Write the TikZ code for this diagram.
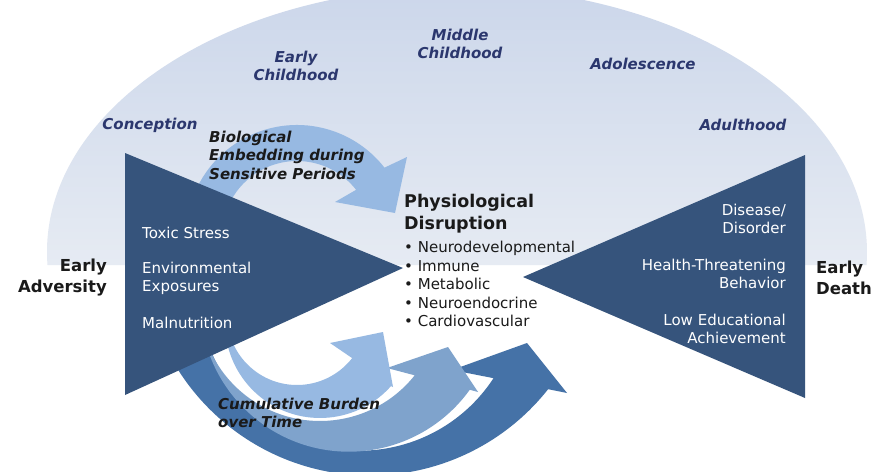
\documentclass[tikz,border=0pt]{standalone}
\usepackage{fontspec}
\setmainfont{DejaVu Sans}[BoldFont={DejaVu Sans Bold},ItalicFont={DejaVu Sans Oblique},BoldItalicFont={DejaVu Sans Bold Oblique}]
\usetikzlibrary{calc}
\definecolor{tri}{RGB}{54,84,124}
\definecolor{arrL}{RGB}{151,185,226}
\definecolor{arrM}{RGB}{127,163,204}
\definecolor{arrD}{RGB}{69,114,167}
\definecolor{stage}{RGB}{43,55,110}
\definecolor{txt}{RGB}{26,26,26}
\definecolor{ovalTop}{RGB}{203,214,234}
\definecolor{ovalBot}{RGB}{230,235,243}
\begin{document}
\begin{tikzpicture}[x=1pt,y=-1pt,
  stagelbl/.style={font=\fontsize{15}{18}\selectfont\bfseries\itshape, text=stage, align=center, inner sep=0pt},
  tritext/.style={font=\fontsize{15}{18}\selectfont, text=white, inner sep=0pt},
  sidelbl/.style={font=\fontsize{16.5}{21}\selectfont\bfseries, text=txt, inner sep=0pt},
  arrowlbl/.style={font=\fontsize{15}{18.5}\selectfont\bfseries\itshape, text=txt, inner sep=0pt, align=left},
  physlbl/.style={font=\fontsize{17.5}{22}\selectfont\bfseries, text=txt, inner sep=0pt, align=left},
  listlbl/.style={font=\fontsize{15}{18.5}\selectfont, text=txt, inner sep=0pt, align=left}]
\clip (0,0) rectangle (882,471);
\fill[white] (0,0) rectangle (882,471);
% background half ellipse
\shade[top color=ovalTop, bottom color=ovalBot] (47.5,265) arc[start angle=177.19, end angle=362.81, x radius=410, y radius=265] -- cycle;
% bottom arrows
\fill[arrD] ($(370,248.5)+(175:227)$) arc[start angle=175, end angle=38.3, radius=227] -- (567,393) -- (527,343) -- (452,370) -- ($(359.4,290.4)+(33.2:160.3)$) arc[start angle=33.2, end angle=175, radius=160.3] -- cycle;
\fill[arrM] ($(349,303)+(178:148.7)$) arc[start angle=178, end angle=35.7, radius=148.7] -- (478,392) -- (448,347) -- (387,368) -- ($(320,300)+(38.5:121)$) arc[start angle=38.5, end angle=178, radius=121] -- cycle;
\fill[arrL] ($(320,323)+(185:95)$) arc[start angle=185, end angle=41.6, radius=95] -- (393,387) -- (383,332) -- (330,343) -- ($(297,315)+(38:70)$) arc[start angle=38, end angle=185, radius=70] -- cycle;
% top arrow
\fill[arrL] ($(297,236)+(-160:111)$) arc[start angle=-160, end angle=-38, radius=111] -- (407,157) -- (395,213) -- (335,202) -- ($(297,236)+(-38:75)$) arc[start angle=-38, end angle=-160, radius=75] -- cycle;
% triangles
\fill[tri] (125,153) -- (403,268) -- (125,395) -- cycle;
\fill[tri] (805,155) -- (523,277) -- (805,398) -- cycle;
% stage labels
\node[stagelbl] (conc) at (150,125) {Conception};
\node[stagelbl] (echild) at (296,66) {Early\\Childhood};
\node[stagelbl] (mchild) at (460,43.5) {Middle\\Childhood};
\node[stagelbl] (adol) at (643,64) {Adolescence};
\node[stagelbl] (adult) at (743,125) {Adulthood};
% arrow labels
\node[arrowlbl, anchor=west] (bio) at (209,155) {Biological\\Embedding during\\Sensitive Periods};
\node[arrowlbl, anchor=west] (cum) at (218,413) {Cumulative Burden\\over Time};
% side labels
\node[sidelbl, align=right, anchor=east] (adv) at (107,278) {Early\\Adversity};
\node[sidelbl, align=left, anchor=west] (death) at (816,278) {Early\\Death};
% centre
\node[physlbl, anchor=west] (phys) at (404,214) {Physiological\\Disruption};
\node[listlbl, anchor=west] (list) at (404,284) {• Neurodevelopmental\\• Immune\\• Metabolic\\• Neuroendocrine\\• Cardiovascular};
% left triangle texts
\node[tritext, anchor=west] (toxic) at (142,233) {Toxic Stress};
\node[tritext, anchor=west, align=left] (env) at (142,278) {Environmental\\Exposures};
\node[tritext, anchor=west] (maln) at (142,323) {Malnutrition};
% right triangle texts
\node[tritext, anchor=east, align=right] (dis) at (786,219) {Disease/\\Disorder};
\node[tritext, anchor=east, align=right] (health) at (786,274) {Health-Threatening\\Behavior};
\node[tritext, anchor=east, align=right] (edu) at (786,329) {Low Educational\\Achievement};
\end{tikzpicture}
\end{document}
